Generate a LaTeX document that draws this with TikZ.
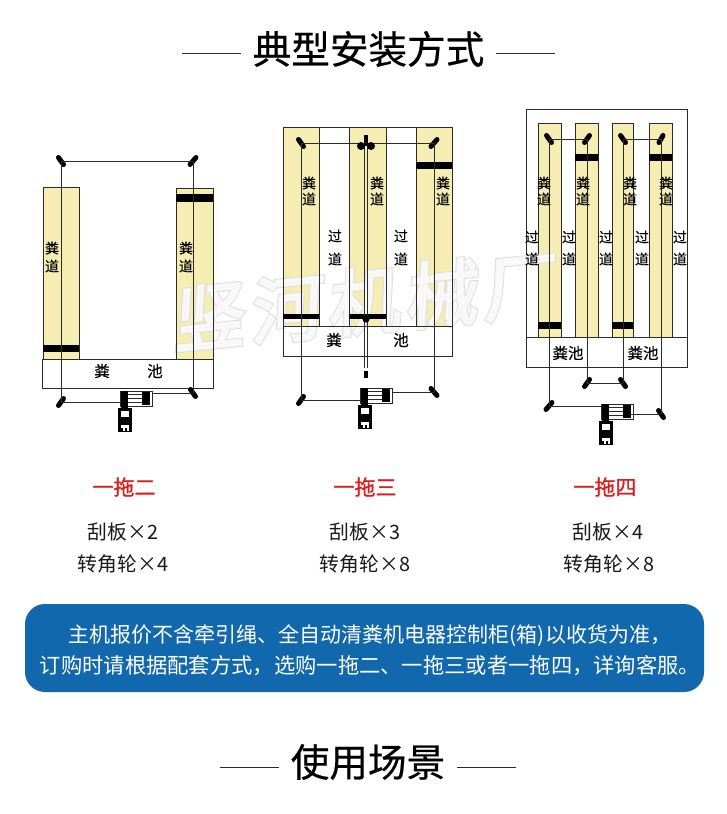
\documentclass[tikz,border=0pt]{standalone}
\usepackage{fontspec}
\setmainfont{Noto Sans CJK SC}
\newfontfamily\headfont[FakeBold=0.5]{Noto Sans CJK SC}
\newfontfamily\redfont[FakeBold=1.0]{Noto Sans CJK SC}
\newfontfamily\labfont[FakeBold=0.25]{Noto Sans CJK SC}
\newcommand{\fs}[1]{\fontsize{#1}{#1}\selectfont}
\definecolor{lane}{HTML}{F6EDB2}
\definecolor{ink}{HTML}{2B2B2B}
\definecolor{bluebox}{HTML}{1268AC}
\definecolor{redtxt}{HTML}{D8201E}
\tikzset{
  lanebox/.style={fill=lane,draw=ink,line width=0.7pt},
  laneedge/.style={draw=ink,line width=0.7pt},
  pool/.style={fill=white,draw=ink,line width=0.8pt},
  outer/.style={draw=ink,line width=0.8pt},
  scraper/.style={fill=black,draw=none},
  rope/.style={draw=ink,line width=0.9pt},
  pulleystroke/.style={draw=black,line width=5pt,line cap=round},
  lab/.style={inner sep=0pt,text=black,font=\labfont\fs{14}},
  poollab/.style={inner sep=0pt,text=black,font=\labfont\fs{15.5}},
  headline/.style={draw=ink,line width=1pt},
  headtxt/.style={inner sep=0pt,text=black,font=\headfont\fs{38.6}},
  redtitle/.style={inner sep=0pt,text=redtxt,font=\redfont\fs{21}},
  count/.style={inner sep=0pt,text=black!90,font=\fs{19.8}},
  noteone/.style={inner sep=0pt,text=white,font=\fs{21}},
  notetwo/.style={inner sep=0pt,text=white,font=\fs{21.3}},
  wmark/.style={inner sep=0pt,font=\fs{72},rotate=5.5,xslant=0.15,transform shape},
  pics/drive/.style={code={
    \fill[white] (0,0) rectangle (32,16);
    \draw[ink,line width=0.6pt] (0,0) rectangle (32,15);
    \fill[black] (1,0) rectangle (8,20);
    \fill[black] (22,1) rectangle (30,14);
    \foreach \yy in {3.5,7.5,11.5} \draw[ink,line width=1pt] (8,\yy) -- (22,\yy);
    \fill[black] (-2,17) rectangle (12,41);
    \fill[white] (1,20) rectangle (9,26);
    \fill[white] (1,34) rectangle (9,37);
    \fill[white] (3,37) rectangle (5,40);
    \fill[white] (7,37) rectangle (9,40);
  }}
}
\newcommand{\pulley}[5]{%
  \coordinate (#1) at (#2,#3);
  \draw[pulleystroke] ([shift={(#4,#5)}]#1) -- ([shift={(-#4,-#5)}]#1);}
\newcommand{\lanerect}[4]{\draw[lanebox] (#1,#2) rectangle (#3,#4);}
\newcommand{\wmtext}{竖\hspace{6pt}河\hspace{6pt}机\hspace{6pt}械\hspace{6pt}厂}
\begin{document}
\begin{tikzpicture}[x=1pt,y=-1pt]
\useasboundingbox (0,0) rectangle (727,814);
\fill[white] (0,0) rectangle (727,814);

% ---- header
\node[headtxt] (h1) at (368.5,49) {典型安装方式};
\coordinate (h1a) at (182,53); \coordinate (h1b) at (241,53);
\coordinate (h1c) at (496,53); \coordinate (h1d) at (555,53);
\draw[headline] (h1a) -- (h1b); \draw[headline] (h1c) -- (h1d);

% ---- lanes and pools, under the watermark
\lanerect{43}{187}{79}{359}
\lanerect{176}{188}{213}{359}
\draw[pool] (42,359) rectangle (213,388);
\draw[outer] (283,127) rectangle (452,356);
\lanerect{283}{127}{319}{326}
\lanerect{349}{127}{386}{326}
\lanerect{416}{127}{452}{326}
\draw[pool] (283,326) rectangle (452,356);
\draw[outer] (526,109) rectangle (687,367);
\lanerect{538}{123}{561}{337}
\lanerect{575}{123}{598}{337}
\lanerect{612}{123}{633}{337}
\lanerect{649}{123}{672}{337}
\draw[outer] (526,337) -- (687,337);

% ---- watermark: hollow letters, a pale stroke with a paler core
\node[wmark,text=black] (wm1) at (366,301) {\special{pdf:code q 1 Tr 4.2 w 0.85 0.85 0.85 RG}\wmtext\special{pdf:code Q}};
\node[wmark,text=white,opacity=0.7] (wm2) at (366,301) {\special{pdf:code q 2 Tr 2.8 w 1 1 1 RG 1 1 1 rg}\wmtext\special{pdf:code Q}};

% ---- lane edges again, above the watermark
\draw[laneedge] (176,188) rectangle (213,359);
\draw[laneedge] (283,127) rectangle (319,326);
\draw[laneedge] (349,127) rectangle (386,326);
\draw[laneedge] (416,127) rectangle (452,326);
\draw[outer] (283,326) rectangle (452,356);

% ---- one drags two
\fill[scraper] (43,345) rectangle (79,352);
\fill[scraper] (176,194) rectangle (213,202);
\pic at (120,391) {drive};
\pulley{aa}{61}{161}{-2.5}{-3.5}
\pulley{ab}{193}{161}{3}{-3.5}
\pulley{ac}{61}{402}{2.5}{-3.5}
\pulley{ad}{193}{393}{2.5}{3.5}
\coordinate (am1) at (121,402); \coordinate (am2) at (152,393);
\draw[rope] (aa) -- (ab); \draw[rope] (aa) -- (ac); \draw[rope] (ab) -- (ad);
\draw[rope] (ac) -- (am1); \draw[rope] (am2) -- (ad);
\node[lab] at (52,248) {粪}; \node[lab] at (52,266) {道};
\node[lab] at (186,248) {粪}; \node[lab] at (186,266) {道};
\node[poollab] at (102,371) {粪}; \node[poollab] at (155,371) {池};

% ---- one drags three
\fill[scraper] (283,314) rectangle (319,319);
\fill[scraper] (349,314) rectangle (386,319);
\fill[scraper] (416,162) rectangle (452,169);
\pic at (360,388) {drive};
\pulley{ba}{301}{143}{-2.5}{-3.5}
\pulley{bb}{434}{143}{3}{-3.5}
\pulley{bc}{301}{400}{2.5}{-3.5}
\pulley{bd}{434}{392}{3}{3.5}
\coordinate (bt) at (366,146);
\coordinate (bs) at (366,135);
\coordinate (bu) at (366,319);
\coordinate (bv) at (366,368);
\coordinate (bw) at (366,371);
\coordinate (bx) at (366,378);
\coordinate (bm1) at (361,400); \coordinate (bm2) at (392,392);
\draw[rope] (ba) -- (bb); \draw[rope] (ba) -- (bc); \draw[rope] (bb) -- (bd);
\draw[rope] (bc) -- (bm1); \draw[rope] (bm2) -- (bd);
\draw[rope] ([xshift=-1.5]bt) -- ([xshift=-1.5]bv);
\draw[rope] ([xshift=1.5]bt) -- ([xshift=1.5]bv);
\draw[black,line width=3.5pt] (bs) -- (bt);
\fill[black] ([xshift=-5]bt) circle (4) ([xshift=5]bt) circle (4);
\fill[black] (bu) circle (3.6);
\draw[black,line width=3.5pt] (bw) -- (bx);
\node[lab] at (309,183) {粪}; \node[lab] at (309,199) {道};
\node[lab] at (377,183) {粪}; \node[lab] at (377,199) {道};
\node[lab] at (443,183) {粪}; \node[lab] at (443,199) {道};
\node[lab] at (335,236) {过}; \node[lab] at (335,259) {道};
\node[lab] at (401,236) {过}; \node[lab] at (401,259) {道};
\node[poollab] at (334,340) {粪}; \node[poollab] at (401,340) {池};

% ---- one drags four
\fill[scraper] (538,322) rectangle (561,329);
\fill[scraper] (575,154) rectangle (598,161);
\fill[scraper] (612,322) rectangle (633,329);
\fill[scraper] (649,154) rectangle (672,161);
\pic at (601,404) {drive};
\pulley{ca}{549}{139}{-2.5}{-3.5}
\pulley{cb}{587}{139}{2.5}{-3.5}
\pulley{cc}{623}{139}{-2.5}{-3.5}
\pulley{cd}{661}{139}{2}{-3.5}
\pulley{ce}{587}{383}{2.5}{-3.5}
\pulley{cf}{623}{383}{2.5}{3.5}
\pulley{cg}{549}{406}{3}{-3.5}
\pulley{ch}{661}{414}{2.5}{3.5}
\coordinate (cm1) at (602,406); \coordinate (cm2) at (631,414);
\draw[rope] (ca) -- (cb); \draw[rope] (cc) -- (cd);
\draw[rope] (ca) -- (cg); \draw[rope] (cb) -- (ce);
\draw[rope] (cc) -- (cf); \draw[rope] (cd) -- (ch);
\draw[rope] (ce) -- (cf);
\draw[rope] (cg) -- (cm1); \draw[rope] (cm2) -- (ch);
\foreach \xx in {544,583,630,666} {
  \node[lab] at (\xx,183) {粪}; \node[lab] at (\xx,199) {道};}
\foreach \xx in {532,569,606,642,680} {
  \node[lab] at (\xx,237) {过}; \node[lab] at (\xx,259) {道};}
\node[poollab] at (568,353) {粪池}; \node[poollab] at (643,353) {粪池};

% ---- captions
\node[redtitle] at (124,487) {一拖二};
\node[redtitle] at (365,487) {一拖三};
\node[redtitle] at (605,487) {一拖四};
\node[count] at (123,532) {刮板×2};
\node[count] at (123,564) {转角轮×4};
\node[count] at (365,532) {刮板×3};
\node[count] at (365,564) {转角轮×8};
\node[count] at (608,532) {刮板×4};
\node[count] at (609,564) {转角轮×8};

% ---- note
\fill[bluebox,rounded corners=20pt] (25,604) rectangle (704,692);
\node[noteone] at (370,636) {主机报价不含牵引绳、全自动清粪机电器控制柜(箱)以收货为准，};
\node[notetwo] at (370,666) {订购时请根据配套方式，选购一拖二、一拖三或者一拖四，详询客服。};

% ---- footer
\node[headtxt] (h2) at (368,762) {使用场景};
\coordinate (h2a) at (220,767); \coordinate (h2b) at (279,767);
\coordinate (h2c) at (457,767); \coordinate (h2d) at (516,767);
\draw[headline] (h2a) -- (h2b); \draw[headline] (h2c) -- (h2d);
\end{tikzpicture}
\end{document}
